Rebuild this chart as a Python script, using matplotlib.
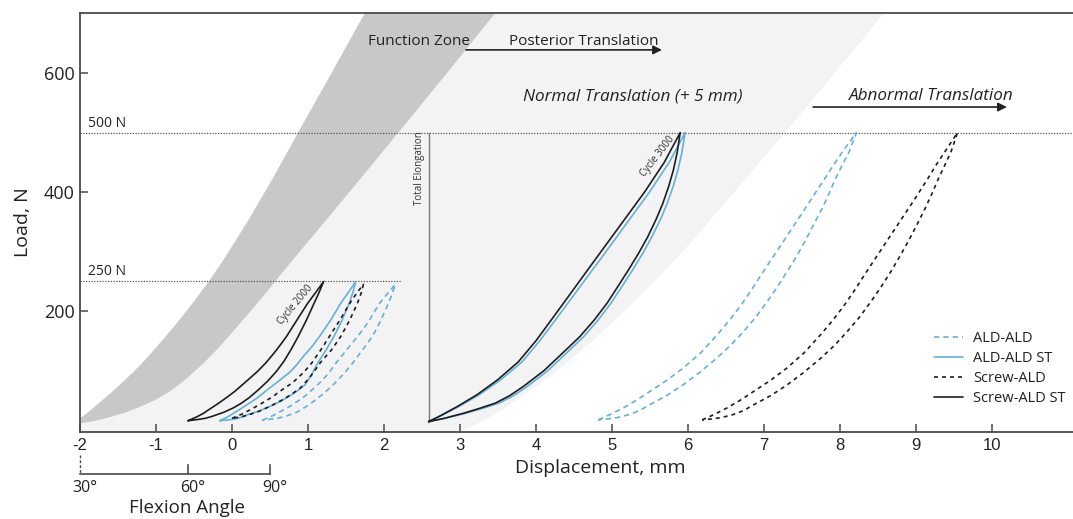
import matplotlib
matplotlib.use("Agg")
import matplotlib.pyplot as plt
import matplotlib.transforms as mtransforms

# ---------------- data ----------------
# Function zone (dark band) boundaries: displacement (mm) vs load (N)
fz_left_x = [-2.0, -1.915, -1.83, -1.71, -1.59, -1.47, -1.32, -1.18, -1.04, -0.89, -0.745,
             -0.60, -0.45, -0.305, -0.112, 0.202, 0.524, 0.87, 1.31, 1.745, 1.83]
fz_left_n = [20, 28, 37, 50, 63, 77, 95, 113, 133, 155, 177,
             200, 225, 250, 286, 350, 420, 500, 600, 700, 720]
fz_right_x = [-2.0, -1.87, -1.76, -1.66, -1.445, -1.25, -1.02, -0.845, -0.69, -0.525, -0.37, -0.215,
              -0.06, 0.09, 0.245, 0.41, 0.57, 0.80, 1.22, 1.675, 2.19, 2.83, 3.46, 3.59]
fz_right_n = [11.5, 14, 17, 20, 28, 37, 50, 63, 77, 95, 113, 133,
              155, 177, 200, 225, 250, 286, 350, 420, 500, 600, 700, 720]
# Normal translation zone (light) right boundary
nz_right_x = [2.90, 3.05, 3.18, 3.32, 3.56, 3.79, 4.0, 4.28, 4.55, 4.80, 5.05, 5.28, 5.5,
              5.72, 5.93, 6.12, 6.3, 6.61, 6.94, 7.28, 7.93, 8.58, 8.71]
nz_right_n = [-10, 0, 8, 17, 35, 55, 73, 100, 129, 157, 186, 214, 242,
              271, 300, 327, 354, 400, 450, 500, 600, 700, 720]

# Cycle 2000 loops (250 N): upper (left) and lower (right) branches
scr_st_c2_up_x = [-0.578, -0.47, -0.38, -0.31, -0.18, -0.07, 0.035, 0.17, 0.33, 0.445, 0.55,
                  0.635, 0.715, 0.785, 0.855, 0.925, 0.995, 1.10, 1.207]
scr_st_c2_up_n = [16, 22, 28, 34, 45, 55, 65, 80, 98, 113, 129,
                  143, 157, 171, 185, 199, 213, 231, 250]
scr_st_c2_lo_x = [-0.578, -0.45, -0.35, -0.268, -0.11, 0.01, 0.12, 0.23, 0.34, 0.466, 0.58,
                  0.68, 0.78, 0.87, 0.925, 0.98, 1.03, 1.08, 1.145, 1.207]
scr_st_c2_lo_n = [16, 18, 20, 23, 30, 37, 45, 55, 67, 82, 98,
                  115, 136, 157, 171, 185, 199, 213, 231, 250]

ald_st_c2_up_x = [-0.16, -0.06, 0.04, 0.164, 0.32, 0.466, 0.62, 0.767, 0.86, 0.94, 1.05,
                  1.15, 1.225, 1.30, 1.365, 1.43, 1.53, 1.63]
ald_st_c2_up_n = [16, 22, 30, 40, 53, 68, 83, 98, 111, 124, 140,
                  157, 171, 185, 199, 213, 231, 250]
ald_st_c2_lo_x = [-0.16, 0.0, 0.08, 0.15, 0.207, 0.35, 0.5, 0.63, 0.74, 0.86, 0.96,
                  1.05, 1.13, 1.24, 1.34, 1.45, 1.543, 1.59, 1.63]
ald_st_c2_lo_n = [16, 18, 20, 23, 26, 32, 40, 48, 56, 66, 76,
                  94, 113, 135, 157, 185, 213, 231, 250]

scr_c2_up_x = [0.0, 0.13, 0.25, 0.39, 0.52, 0.65, 0.80, 0.95, 1.05, 1.17, 1.28, 1.42, 1.55, 1.64, 1.73]
scr_c2_up_n = [20, 27, 35, 45, 55, 67, 80, 98, 113, 135, 157, 185, 213, 230, 245]
scr_c2_lo_x = [0.0, 0.1, 0.2, 0.36, 0.5, 0.65, 0.78, 0.9, 1.0, 1.08, 1.16, 1.31, 1.43, 1.55, 1.65, 1.70, 1.73]
scr_c2_lo_n = [20, 22, 25, 32, 40, 50, 60, 71, 85, 98, 113, 135, 157, 185, 213, 230, 245]

ald_c2_up_x = [0.40, 0.50, 0.62, 0.76, 0.88, 0.98, 1.09, 1.2, 1.29, 1.37, 1.51, 1.65,
               1.735, 1.81, 1.875, 1.94, 2.05, 2.15]
ald_c2_up_n = [17, 22, 30, 40, 50, 59, 72, 85, 99, 113, 135, 157,
               171, 185, 199, 213, 230, 245]
ald_c2_lo_x = [0.40, 0.5, 0.6, 0.72, 0.85, 0.98, 1.09, 1.19, 1.28, 1.40, 1.50, 1.59, 1.72,
               1.845, 1.905, 1.96, 2.01, 2.06, 2.11, 2.15]
ald_c2_lo_n = [17, 18.5, 20, 24, 30, 40, 50, 60, 70, 85, 99, 113, 135,
               157, 171, 185, 199, 213, 230, 245]

# Cycle 3000 loops (500 N)
scr_st_c3_up_x = [2.589, 2.754, 2.969, 3.23, 3.50, 3.77, 4.00, 4.23, 4.515, 4.80,
                  5.115, 5.43, 5.69, 5.90]
scr_st_c3_up_n = [14.5, 25, 40, 60, 85, 115, 150, 190, 240, 290, 345, 400, 450, 500]
scr_st_c3_lo_x = [2.589, 2.795, 3.051, 3.266, 3.465, 3.655, 3.835, 4.106, 4.351, 4.577, 4.771,
                  4.935, 5.08, 5.222, 5.354, 5.473, 5.581, 5.668, 5.749, 5.81, 5.859, 5.90]
scr_st_c3_lo_n = [14.5, 20, 28.6, 37, 45.4, 58, 73.5, 100, 129.5, 157, 185.6,
                  213, 241.6, 270, 297.7, 325, 353.8, 380, 409.8, 437, 465.9, 500]

ald_st_c3_up_x = [2.589, 2.764, 2.989, 3.26, 3.54, 3.82, 4.05, 4.285, 4.575, 4.865,
                  5.18, 5.495, 5.755, 5.965]
ald_st_c3_up_n = [14.5, 25, 40, 60, 85, 115, 150, 190, 240, 290, 345, 400, 450, 500]
ald_st_c3_lo_x = [2.589, 2.805, 3.081, 3.307, 3.511, 3.705, 3.885, 4.157, 4.402, 4.628, 4.822,
                  4.986, 5.134, 5.277, 5.41, 5.527, 5.639, 5.726, 5.808, 5.87, 5.921, 5.965]
ald_st_c3_lo_n = [14.5, 20, 28.6, 37, 45.4, 58, 73.5, 100, 129.5, 157, 185.6,
                  213, 241.6, 270, 297.7, 325, 353.8, 380, 409.8, 437, 465.9, 500]

ald_c3_up_x = [4.82, 4.97, 5.145, 5.32, 5.50, 5.725, 5.935, 6.17, 6.385, 6.55, 6.70, 6.84,
               6.965, 7.095, 7.225, 7.355, 7.49, 7.61, 7.72, 7.82, 7.92, 8.065, 8.22]
ald_c3_up_n = [17.4, 26, 37, 50, 65, 84, 104, 130, 160, 185, 210, 236,
               261, 286, 311, 336, 362, 385, 407, 426, 446, 473, 500]
ald_c3_lo_x = [4.82, 4.95, 5.08, 5.22, 5.365, 5.495, 5.72, 5.935, 6.155, 6.38, 6.565, 6.735,
               6.895, 7.045, 7.18, 7.31, 7.43, 7.54, 7.655, 7.77, 7.86, 7.945, 8.035, 8.125, 8.22]
ald_c3_lo_n = [17.4, 19, 21.5, 26, 33, 42.6, 58, 76, 97, 121, 143, 166,
               190, 216, 241, 267, 292, 317, 345, 373, 398, 423, 446, 468, 500]

scr_c3_up_x = [6.19, 6.34, 6.51, 6.685, 6.865, 7.09, 7.30, 7.53, 7.745, 7.91, 8.06, 8.20,
               8.325, 8.455, 8.585, 8.715, 8.85, 8.97, 9.08, 9.175, 9.27, 9.41, 9.55]
scr_c3_up_n = [17.4, 26, 37, 50, 65, 84, 104, 130, 160, 185, 210, 236,
               261, 286, 311, 336, 362, 385, 407, 426, 446, 473, 500]
scr_c3_lo_x = [6.19, 6.32, 6.45, 6.59, 6.735, 6.865, 7.09, 7.305, 7.525, 7.75, 7.935, 8.10,
               8.26, 8.41, 8.545, 8.675, 8.79, 8.90, 9.015, 9.125, 9.215, 9.30, 9.385, 9.465, 9.55]
scr_c3_lo_n = [17.4, 19, 21.5, 26, 33, 42.6, 58, 76, 97, 121, 143, 166,
               190, 216, 241, 267, 292, 317, 345, 373, 398, 423, 446, 468, 500]

# Total elongation marker
elong_x = [2.589, 2.589]
elong_n = [14.5, 500]

# Flexion angle secondary scale
flex_angles = ["30°", "60°", "90°"]
flex_pos = [-2.0, -0.58, 0.5]

x_ticks = list(range(-2, 11))
y_ticks = [200, 400, 600]
legend_labels = ["ALD-ALD", "ALD-ALD ST", "Screw-ALD", "Screw-ALD ST"]

# ---------------- style ----------------
BLUE = "#62b2d9"
BLACK = "#1e1e1e"
DARK_ZONE = "#c8c8c8"
LIGHT_ZONE = "#f3f3f3"
SPINE = "#4a4a4a"
plt.rcParams["font.family"] = ["Open Sans", "DejaVu Sans"]

fig = plt.figure(figsize=(10.73, 5.19), dpi=100)
ax = fig.add_axes([80 / 1073, 87 / 519, 993 / 1073, 419 / 519])
ax.set_xlim(-2, 11.07)
ax.set_ylim(-3, 701)

# zones
light_x = [-2.0, -2.0] + fz_right_x + nz_right_x[::-1]
light_n = [-10, fz_right_n[0]] + fz_right_n + nz_right_n[::-1]
ax.fill(light_x, light_n, color=LIGHT_ZONE, lw=0, zorder=0)
dark_x = fz_left_x + fz_right_x[::-1]
dark_n = fz_left_n + fz_right_n[::-1]
ax.fill(dark_x, dark_n, color=DARK_ZONE, lw=0, zorder=1)

# reference load lines
ax.plot([-2, 11.07], [500, 500], color="#555555", lw=0.9, ls=(0, (1, 1.2)), zorder=2)
ax.plot([-2, 2.22], [250, 250], color="#555555", lw=0.9, ls=(0, (1, 1.2)), zorder=2)
ax.text(-1.89, 515, "500 N", fontsize=10, color="#222", va="center", ha="left")
ax.text(-1.89, 267, "250 N", fontsize=10, color="#222", va="center", ha="left")

# total elongation
ax.plot(elong_x, elong_n, color="#7a7a7a", lw=1.0, zorder=2)
ax.text(elong_x[0] - 0.05, 502, "Total Elongation", rotation=90, fontsize=7,
        color="#333", ha="right", va="top")


def loop(ux, un, lx, ln, color, style, label=None):
    xs = list(ux) + list(lx[::-1])
    ns = list(un) + list(ln[::-1])
    kw = dict(color=color, lw=1.2, zorder=4, solid_joinstyle="round",
              solid_capstyle="round")
    if style == "dash_blue":
        kw.update(ls=(0, (3.2, 2.4)))
    elif style == "dash_black":
        kw.update(ls=(0, (2.4, 2.4)))
    line, = ax.plot(xs, ns, label=label, **kw)
    return line


h_ald = loop(ald_c2_up_x, ald_c2_up_n, ald_c2_lo_x, ald_c2_lo_n, BLUE, "dash_blue", legend_labels[0])
h_ald_st = loop(ald_st_c2_up_x, ald_st_c2_up_n, ald_st_c2_lo_x, ald_st_c2_lo_n, BLUE, "solid", legend_labels[1])
h_scr = loop(scr_c2_up_x, scr_c2_up_n, scr_c2_lo_x, scr_c2_lo_n, BLACK, "dash_black", legend_labels[2])
h_scr_st = loop(scr_st_c2_up_x, scr_st_c2_up_n, scr_st_c2_lo_x, scr_st_c2_lo_n, BLACK, "solid", legend_labels[3])

loop(ald_c3_up_x, ald_c3_up_n, ald_c3_lo_x, ald_c3_lo_n, BLUE, "dash_blue")
loop(scr_c3_up_x, scr_c3_up_n, scr_c3_lo_x, scr_c3_lo_n, BLACK, "dash_black")
loop(ald_st_c3_up_x, ald_st_c3_up_n, ald_st_c3_lo_x, ald_st_c3_lo_n, BLUE, "solid")
loop(scr_st_c3_up_x, scr_st_c3_up_n, scr_st_c3_lo_x, scr_st_c3_lo_n, BLACK, "solid")

ax.text(0.84, 210, "Cycle 2000", rotation=50, fontsize=7, color="#333",
        ha="center", va="center", rotation_mode="anchor")
ax.text(5.6, 460, "Cycle 3000", rotation=52, fontsize=7, color="#333",
        ha="center", va="center", rotation_mode="anchor")

# zone annotations
ax.text(2.46, 653, "Function Zone", fontsize=11, color="#222", ha="center", va="center")
ax.text(4.63, 653, "Posterior Translation", fontsize=11, color="#222", ha="center", va="center")
ax.annotate("", xy=(5.66, 639), xytext=(3.08, 639),
            arrowprops=dict(arrowstyle="-|>", color="#222", lw=1.2,
                            mutation_scale=13, shrinkA=0, shrinkB=0))
ax.text(5.27, 561, "Normal Translation (+ 5 mm)", fontsize=12.3, style="italic",
        color="#222", ha="center", va="center")
ax.text(9.2, 561, "Abnormal Translation", fontsize=12.3, style="italic",
        color="#222", ha="center", va="center")
ax.annotate("", xy=(10.2, 543), xytext=(7.65, 543),
            arrowprops=dict(arrowstyle="-|>", color="#222", lw=1.2,
                            mutation_scale=13, shrinkA=0, shrinkB=0))

# axes styling
for side in ["left", "bottom", "top"]:
    ax.spines[side].set_color(SPINE)
    ax.spines[side].set_linewidth(1.3)
ax.spines["right"].set_visible(False)
ax.set_xticks(x_ticks)
ax.set_yticks(y_ticks)
ax.tick_params(axis="both", direction="in", length=6, width=1.1, color=SPINE)
ax.tick_params(axis="x", pad=4)
ax.tick_params(axis="y", pad=4)
ax.set_xticklabels([str(v) for v in x_ticks], fontsize=12,
                   family=["Liberation Sans", "DejaVu Sans"], color="#222")
ax.set_yticklabels([str(v) for v in y_ticks], fontsize=13, color="#222")
trans = mtransforms.blended_transform_factory(ax.transData, ax.transAxes)
ax.text(4.85, -0.085, "Displacement, mm", transform=trans,
        fontsize=14, color="#222", ha="center", va="center")
ax.set_ylabel("Load, N", fontsize=14, color="#222", labelpad=8)

# flexion angle scale
y_line = -0.1002
ax.plot([flex_pos[0], flex_pos[-1]], [y_line, y_line], color=SPINE, lw=1.2,
        transform=trans, clip_on=False)
ax.plot([flex_pos[0], flex_pos[0]], [-0.055, y_line], color=SPINE, lw=1.0,
        ls=(0, (2, 1.5)), transform=trans, clip_on=False)
for p in flex_pos[1:]:
    ax.plot([p, p], [y_line + 0.022, y_line], color=SPINE, lw=1.2,
            transform=trans, clip_on=False)
for p, lab in zip(flex_pos, flex_angles):
    ax.text(p + 0.06, -0.134, lab, transform=trans, fontsize=11.5, color="#222",
            ha="center", va="center")
ax.text(-0.59, -0.181, "Flexion Angle", transform=trans, fontsize=13.5,
        color="#222", ha="center", va="center")

# legend
leg = fig.legend(handles=[h_ald, h_ald_st, h_scr, h_scr_st], labels=legend_labels,
                 loc="upper left", bbox_to_anchor=(934 / 1073, 1 - 331 / 519),
                 frameon=False, fontsize=10.5, handlelength=2.0, handletextpad=0.7,
                 labelspacing=0.35, borderpad=0, borderaxespad=0)
for t in leg.get_texts():
    t.set_color("#222")

fig.savefig("out.png", dpi=100)
